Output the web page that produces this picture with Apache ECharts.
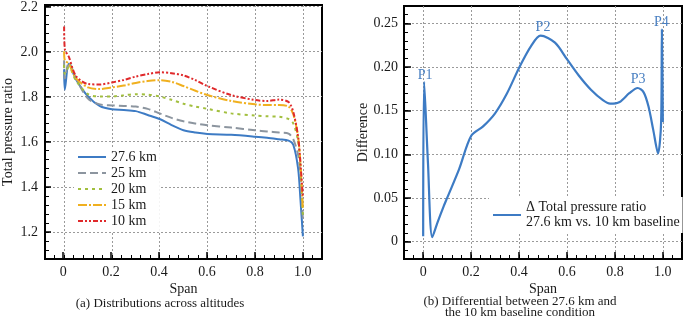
<!DOCTYPE html>
<html>
<head>
<meta charset="utf-8">
<script src="https://cdn.jsdelivr.net/npm/echarts@6/dist/echarts.min.js"></script>
<style>
  html, body { margin: 0; padding: 0; background: #fff; }
  #chart { width: 685px; height: 322px; }
</style>
</head>
<body>
<div id="chart"></div>
<script>
// panel (a): total pressure ratio vs span
const spanA = [0, 0.003, 0.02, 0.05, 0.1, 0.15, 0.2, 0.25, 0.3, 0.35, 0.4, 0.45, 0.5, 0.55, 0.6, 0.7, 0.8, 0.85, 0.9, 0.94, 0.96, 0.98, 0.99, 1.0];
const km276 = [1.92, 1.83, 1.945, 1.875, 1.80, 1.757, 1.743, 1.74, 1.735, 1.718, 1.70, 1.673, 1.65, 1.64, 1.634, 1.63, 1.622, 1.617, 1.61, 1.604, 1.585, 1.48, 1.34, 1.18];
const km25 = [1.96, 1.88, 1.95, 1.88, 1.79, 1.765, 1.76, 1.758, 1.755, 1.745, 1.725, 1.705, 1.69, 1.68, 1.672, 1.662, 1.65, 1.645, 1.64, 1.635, 1.61, 1.54, 1.45, 1.25];
const km20 = [1.94, 1.90, 1.93, 1.87, 1.81, 1.80, 1.80, 1.805, 1.81, 1.808, 1.80, 1.785, 1.768, 1.755, 1.745, 1.725, 1.715, 1.712, 1.71, 1.70, 1.68, 1.60, 1.48, 1.27];
const km15 = [2.00, 1.96, 1.945, 1.88, 1.84, 1.833, 1.84, 1.848, 1.86, 1.868, 1.872, 1.865, 1.846, 1.825, 1.806, 1.78, 1.765, 1.762, 1.762, 1.755, 1.72, 1.62, 1.50, 1.30];
const km10 = [2.11, 2.01, 1.975, 1.89, 1.855, 1.853, 1.862, 1.873, 1.888, 1.899, 1.907, 1.903, 1.893, 1.872, 1.846, 1.806, 1.784, 1.78, 1.786, 1.775, 1.73, 1.62, 1.50, 1.35];

// panel (b): difference 27.6 km vs 10 km
const spanB = [0, 0.004, 0.02, 0.038, 0.06, 0.085, 0.1, 0.15, 0.2, 0.25, 0.3, 0.35, 0.4, 0.45, 0.49, 0.55, 0.6, 0.65, 0.7, 0.75, 0.78, 0.82, 0.86, 0.895, 0.92, 0.94, 0.96, 0.98, 0.993, 0.996, 1.0];
const diff = [0.006, 0.183, 0.09, 0.005, 0.022, 0.04, 0.05, 0.083, 0.121, 0.132, 0.147, 0.170, 0.199, 0.224, 0.236, 0.228, 0.209, 0.190, 0.174, 0.162, 0.158, 0.160, 0.170, 0.176, 0.171, 0.155, 0.128, 0.101, 0.138, 0.243, 0.137];

const peakNames = ['P1', 'P2', 'P3', 'P4'];
const peakSpan = [0.008, 0.5, 0.897, 0.994];
const peakDiff = [0.19, 0.245, 0.186, 0.251];

// tick labels
const xMajor = [0, 0.2, 0.4, 0.6, 0.8, 1.0];
const yMajorA = [1.2, 1.4, 1.6, 1.8, 2.0, 2.2];
const yMajorB = [0, 0.05, 0.10, 0.15, 0.20, 0.25];

const serif = '"Liberation Serif", "Times New Roman", serif';
const ink = '#1a1a1a';
const clear = 'rgba(0,0,0,0)';
const gridColor = '#9a9a9a';

const pair = (xs, ys) => xs.map((x, i) => [x, ys[i]]);

const rectA = { left: 44, top: 5, width: 278, height: 254 };
const rectB = { left: 404, top: 6, width: 278, height: 253 };

// main axis: minor ticks every step, gridlines only on majors via colour cycle
function minorAxis(gridIndex, min, max, step, cycle, extra) {
  return Object.assign({
    type: 'value', gridIndex, min, max, interval: step,
    axisLine: { show: true, onZero: false, lineStyle: { color: '#000', width: 2 } },
    axisTick: { show: true, inside: true, length: 4, lineStyle: { color: '#000', width: 1 } },
    axisLabel: { show: false },
    splitLine: { show: true, lineStyle: { color: cycle, type: [2, 2], width: 1 } }
  }, extra);
}

// overlay axis: long major ticks and labels
function majorAxis(gridIndex, min, max, values, fmt) {
  return {
    type: 'value', gridIndex, min, max,
    axisLine: { show: false, onZero: false },
    splitLine: { show: false },
    axisTick: { show: true, inside: true, length: 7, customValues: values, lineStyle: { color: '#000', width: 1.5 } },
    axisLabel: { customValues: values, formatter: fmt, margin: 6, color: ink, fontFamily: serif, fontSize: 14 }
  };
}

const fmtX = v => v === 0 ? '0' : v.toFixed(1);
const fmtA = v => v.toFixed(1);
const fmtB = v => v === 0 ? '0' : v.toFixed(2);

const cycX = [clear, clear, gridColor, clear, clear];
const cycA = [clear, clear, clear, gridColor, clear];
const cycB = [clear, clear, gridColor, clear, clear];

const nameStyle = { color: ink, fontFamily: serif, fontSize: 14 };

const chart = echarts.init(document.getElementById('chart'));

const lineSeries = (name, data, color, type) => ({
  name, type: 'line', xAxisIndex: 0, yAxisIndex: 0,
  data, symbol: 'none', smooth: 0.3,
  lineStyle: { color, width: 2, type },
  itemStyle: { color }
});

const capFont = '13px "Liberation Serif", serif';

const option = {
  animation: false,
  grid: [
    Object.assign({ show: true, borderColor: '#000', borderWidth: 2, backgroundColor: clear }, rectA),
    Object.assign({ show: true, borderColor: '#000', borderWidth: 2, backgroundColor: clear }, rectB),
    Object.assign({}, rectA),
    Object.assign({}, rectB)
  ],
  xAxis: [
    minorAxis(0, -0.08, 1.08, 0.04, cycX, { name: 'Span', nameLocation: 'middle', nameGap: 23, nameTextStyle: nameStyle }),
    minorAxis(1, -0.08, 1.08, 0.04, cycX, { name: 'Span', nameLocation: 'middle', nameGap: 23, nameTextStyle: nameStyle }),
    majorAxis(2, -0.08, 1.08, xMajor, fmtX),
    majorAxis(3, -0.08, 1.08, xMajor, fmtX)
  ],
  yAxis: [
    minorAxis(0, 1.08, 2.205, 0.04, cycA, { name: 'Total pressure ratio', nameLocation: 'middle', nameGap: 30, nameTextStyle: nameStyle }),
    minorAxis(1, -0.02, 0.27, 0.01, cycB, { name: 'Difference', nameLocation: 'middle', nameGap: 34, nameTextStyle: nameStyle }),
    majorAxis(2, 1.08, 2.205, yMajorA, fmtA),
    majorAxis(3, -0.02, 0.27, yMajorB, fmtB)
  ],
  legend: [
    {
      left: 74, top: 147, orient: 'vertical', padding: 3, itemGap: 2,
      itemWidth: 28, itemHeight: 12, backgroundColor: '#fff',
      itemStyle: { opacity: 0 },
      textStyle: { color: ink, fontFamily: serif, fontSize: 14, lineHeight: 14 },
      data: ['27.6 km', '25 km', '20 km', '15 km', '10 km']
    },
    {
      left: 489, top: 197, orient: 'vertical', padding: 3,
      itemWidth: 28, itemHeight: 12, backgroundColor: '#fff',
      itemStyle: { opacity: 0 },
      textStyle: { color: ink, fontFamily: serif, fontSize: 14, lineHeight: 15 },
      data: ['\u0394 Total pressure ratio\n27.6 km vs. 10 km baseline']
    }
  ],
  series: [
    lineSeries('27.6 km', pair(spanA, km276), '#3d7bc4', 'solid'),
    lineSeries('25 km', pair(spanA, km25), '#8c959f', [8, 4]),
    lineSeries('20 km', pair(spanA, km20), '#a2bf3e', [3, 4]),
    lineSeries('15 km', pair(spanA, km15), '#f0b01f', [9, 2, 2, 2]),
    lineSeries('10 km', pair(spanA, km10), '#e0292b', [5, 2, 2, 2, 2, 2]),
    {
      name: '\u0394 Total pressure ratio\n27.6 km vs. 10 km baseline',
      type: 'line', xAxisIndex: 1, yAxisIndex: 1,
      data: pair(spanB, diff), symbol: 'none', smooth: 0.3,
      lineStyle: { color: '#3d7bc4', width: 2.2 },
      itemStyle: { color: '#3d7bc4' },
      markPoint: {
        symbol: 'circle', symbolSize: 0,
        label: { show: true, position: 'inside', formatter: '{b}', color: '#4a80c2', fontFamily: serif, fontSize: 14 },
        data: peakNames.map((n, i) => ({ name: n, coord: [peakSpan[i], peakDiff[i]] }))
      }
    }
  ],
  graphic: [
    { type: 'text', x: 160, y: 304, style: { text: '(a) Distributions across altitudes', fill: ink, font: capFont, align: 'center', verticalAlign: 'middle' } },
    { type: 'text', x: 520, y: 302, style: { text: '(b) Differential between 27.6 km and', fill: ink, font: capFont, align: 'center', verticalAlign: 'middle' } },
    { type: 'text', x: 520, y: 313, style: { text: 'the 10 km baseline condition', fill: ink, font: capFont, align: 'center', verticalAlign: 'middle' } }
  ]
};

chart.setOption(option);
</script>
</body>
</html>
